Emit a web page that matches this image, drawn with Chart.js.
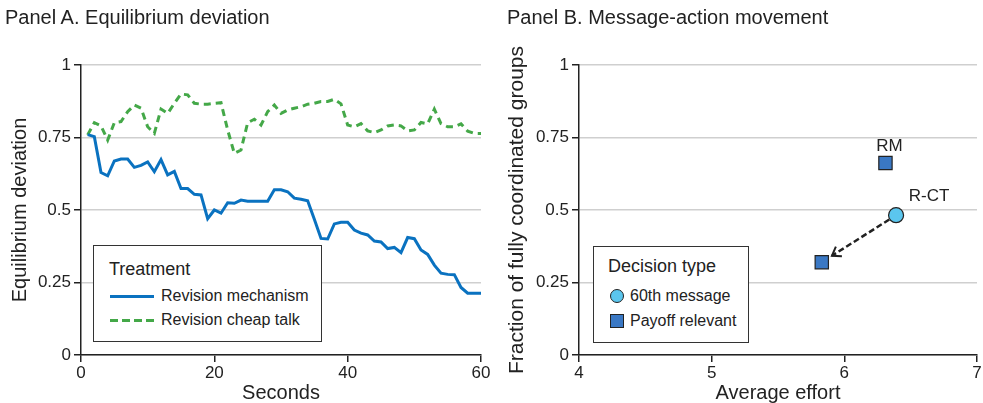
<!DOCTYPE html>
<html>
<head>
<meta charset="utf-8">
<script src="https://cdn.jsdelivr.net/npm/chart.js@4.4.1/dist/chart.umd.min.js"></script>
<style>
  body { margin: 0; background: #fff; font-family: "Liberation Sans", Arial, sans-serif; color: #222; }
  #wrap { position: relative; width: 983px; height: 403px; overflow: hidden; }
  canvas { position: absolute; top: 0; }
  .ttl { position: absolute; top: 6px; font-size: 20px; white-space: nowrap; }
  .leg { position: absolute; border: 1.5px solid #333; background: #fff; box-sizing: border-box; }
  .leg .head { position: absolute; font-size: 18px; line-height: 20px; white-space: nowrap; }
  .leg .row { position: absolute; height: 20px; display: flex; align-items: center; font-size: 16px; white-space: nowrap; }
  .solid { width: 44px; border-top: 3px solid #0a72c0; margin-right: 7px; }
  .dash { width: 44px; height: 3px; margin-right: 7px;
          background: repeating-linear-gradient(90deg, #44a848 0 8px, transparent 8px 12px); }
  .dot { width: 14px; height: 14px; border-radius: 50%; background: #5bc6ee; border: 1.2px solid #222; box-sizing: border-box; margin-right: 6px; }
  .sq { width: 14px; height: 14px; background: #3a78c4; border: 1.2px solid #222; box-sizing: border-box; margin-right: 6px; }
</style>
</head>
<body>
<div id="wrap">
  <canvas id="chartA" width="495" height="403" style="left:0"></canvas>
  <canvas id="chartB" width="495" height="403" style="left:495px"></canvas>

  <div class="ttl" style="left:5px">Panel A. Equilibrium deviation</div>
  <div class="ttl" style="left:507px">Panel B. Message-action movement</div>

  <div class="leg" style="left:93px;top:245px;width:229px;height:97px">
    <div class="head" style="left:15px;top:13px">Treatment</div>
    <div class="row" style="left:16px;top:40px"><span class="solid"></span>Revision mechanism</div>
    <div class="row" style="left:16px;top:64px"><span class="dash"></span>Revision cheap talk</div>
  </div>

  <div class="leg" style="left:593px;top:246px;width:156px;height:97px">
    <div class="head" style="left:14px;top:9px">Decision type</div>
    <div class="row" style="left:16px;top:39px"><span class="dot"></span>60th message</div>
    <div class="row" style="left:16px;top:64px"><span class="sq"></span>Payoff relevant</div>
  </div>
</div>

<script>
// Panel A: deviation by second
const seconds = Array.from({ length: 60 }, (_, i) => i + 1);
const revisionMechanism = [
  0.76, 0.753, 0.629, 0.618, 0.669, 0.676, 0.676, 0.647, 0.654, 0.666,
  0.632, 0.674, 0.621, 0.633, 0.574, 0.574, 0.554, 0.552, 0.47, 0.50,
  0.489, 0.525, 0.523, 0.534, 0.530, 0.530, 0.530, 0.530, 0.570, 0.570,
  0.563, 0.541, 0.537, 0.532, 0.468, 0.402, 0.400, 0.452, 0.458, 0.458,
  0.431, 0.420, 0.414, 0.393, 0.390, 0.367, 0.371, 0.353, 0.405, 0.401,
  0.362, 0.347, 0.310, 0.282, 0.278, 0.277, 0.233, 0.213, 0.213, 0.213
];
const revisionCheapTalk = [
  0.759, 0.801, 0.790, 0.741, 0.801, 0.805, 0.839, 0.862, 0.851, 0.787,
  0.764, 0.848, 0.833, 0.868, 0.90, 0.897, 0.868, 0.865, 0.865, 0.868,
  0.870, 0.776, 0.695, 0.707, 0.801, 0.813, 0.793, 0.839, 0.862, 0.833,
  0.845, 0.851, 0.856, 0.865, 0.868, 0.874, 0.874, 0.882, 0.866, 0.793,
  0.787, 0.798, 0.773, 0.767, 0.776, 0.790, 0.793, 0.790, 0.773, 0.776,
  0.802, 0.797, 0.848, 0.798, 0.787, 0.787, 0.797, 0.772, 0.764, 0.764
];
const yTicks = [0, 0.25, 0.5, 0.75, 1];

// Panel B: effort vs coordination
const messageEffort = [6.39];
const messageFraction = [0.482];
const payoffEffort = [6.31, 5.83];
const payoffFraction = [0.662, 0.32];
const pointNames = ["RM", "R-CT"];

const FONT = "'Liberation Sans', Arial, sans-serif";

function fixWidth(w) { return s => { s.width = w; }; }
function fixHeight(h) { return s => { s.height = h; }; }

function yAxis(width, titleText, titlePad, titleSize) {
  return {
    min: 0, max: 1,
    afterFit: fixWidth(width),
    afterBuildTicks: s => { s.ticks = yTicks.map(v => ({ value: v })); },
    ticks: { font: { size: 17, family: FONT }, color: "#222", padding: 3,
             callback: v => String(v) },
    grid: { color: "#cfcfcf", lineWidth: 1.5, tickColor: "#222", tickLength: 7 },
    border: { color: "#222", width: 1.5 },
    title: { display: true, text: titleText, color: "#222",
             font: { size: titleSize, family: FONT, lineHeight: 1.2 }, padding: { top: titlePad, bottom: 0 } }
  };
}

function xAxis(min, max, step, titleText) {
  return {
    type: "linear", min, max,
    afterFit: fixHeight(48),
    ticks: { stepSize: step, font: { size: 17, family: FONT }, color: "#222", padding: 1 },
    grid: { drawOnChartArea: false, tickColor: "#222", tickLength: 7, lineWidth: 1.5 },
    border: { color: "#222", width: 1.5 },
    title: { display: true, text: titleText, color: "#222",
             font: { size: 20, family: FONT, lineHeight: 1 }, padding: { top: 0, bottom: 0 } }
  };
}

new Chart(document.getElementById("chartA"), {
  type: "line",
  data: {
    datasets: [
      { label: "Revision mechanism", data: seconds.map((s, i) => ({ x: s, y: revisionMechanism[i] })),
        borderColor: "#0a72c0", borderWidth: 3, pointRadius: 0, tension: 0 },
      { label: "Revision cheap talk", data: seconds.map((s, i) => ({ x: s, y: revisionCheapTalk[i] })),
        borderColor: "#44a848", borderWidth: 3, borderDash: [7, 5], pointRadius: 0, tension: 0 }
    ]
  },
  options: {
    responsive: false, animation: false,
    layout: { padding: { top: 65, left: 0, right: 14, bottom: 0 } },
    plugins: { legend: { display: false }, tooltip: { enabled: false } },
    scales: { x: xAxis(0, 60, 20, "Seconds"), y: yAxis(81, "Equilibrium deviation", 8, 20) }
  }
});

const arrowPlugin = {
  id: "arrowPlugin",
  beforeDatasetsDraw(chart) {
    const { ctx, scales: { x, y } } = chart;
    const x0 = x.getPixelForValue(messageEffort[0]), y0 = y.getPixelForValue(messageFraction[0]);
    const x1 = x.getPixelForValue(payoffEffort[1]), y1 = y.getPixelForValue(payoffFraction[1]);
    const ang = Math.atan2(y1 - y0, x1 - x0);
    const len = Math.hypot(x1 - x0, y1 - y0);
    const sx = x0 + Math.cos(ang) * 8, sy = y0 + Math.sin(ang) * 8;
    const ex = x0 + Math.cos(ang) * (len - 12), ey = y0 + Math.sin(ang) * (len - 12);
    ctx.save();
    ctx.strokeStyle = "#222";
    ctx.lineWidth = 2.5;
    ctx.setLineDash([6, 3]);
    ctx.beginPath(); ctx.moveTo(sx, sy); ctx.lineTo(ex, ey); ctx.stroke();
    ctx.setLineDash([]);
    ctx.lineWidth = 2;
    const h = 10;
    ctx.beginPath();
    ctx.moveTo(ex - Math.cos(ang - 0.6) * h, ey - Math.sin(ang - 0.6) * h);
    ctx.lineTo(ex, ey);
    ctx.lineTo(ex - Math.cos(ang + 0.6) * h, ey - Math.sin(ang + 0.6) * h);
    ctx.stroke();
    ctx.restore();
  },
  afterDatasetsDraw(chart) {
    const { ctx, scales: { x, y } } = chart;
    ctx.save();
    ctx.fillStyle = "#222";
    ctx.font = "17px " + FONT;
    ctx.textAlign = "center";
    ctx.textBaseline = "middle";
    ctx.fillText(pointNames[0], x.getPixelForValue(payoffEffort[0]) + 4, y.getPixelForValue(payoffFraction[0]) - 17);
    ctx.fillText(pointNames[1], x.getPixelForValue(messageEffort[0]) + 33, y.getPixelForValue(messageFraction[0]) - 19);
    ctx.restore();
  }
};

new Chart(document.getElementById("chartB"), {
  type: "scatter",
  data: {
    datasets: [
      { label: "Payoff relevant", data: payoffEffort.map((e, i) => ({ x: e, y: payoffFraction[i] })),
        pointStyle: "rect", radius: 9.4, backgroundColor: "#3a78c4", borderColor: "#222", borderWidth: 1.2 },
      { label: "60th message", data: messageEffort.map((e, i) => ({ x: e, y: messageFraction[i] })),
        pointStyle: "circle", radius: 7.5, backgroundColor: "#5bc6ee", borderColor: "#222", borderWidth: 1.2 }
    ]
  },
  options: {
    responsive: false, animation: false,
    layout: { padding: { top: 65, left: 0, right: 13, bottom: 0 } },
    plugins: { legend: { display: false }, tooltip: { enabled: false } },
    scales: { x: xAxis(4, 7, 1, "Average effort"), y: yAxis(84, "Fraction of fully coordinated groups", 10, 21) }
  },
  plugins: [arrowPlugin]
});
</script>
</body>
</html>
